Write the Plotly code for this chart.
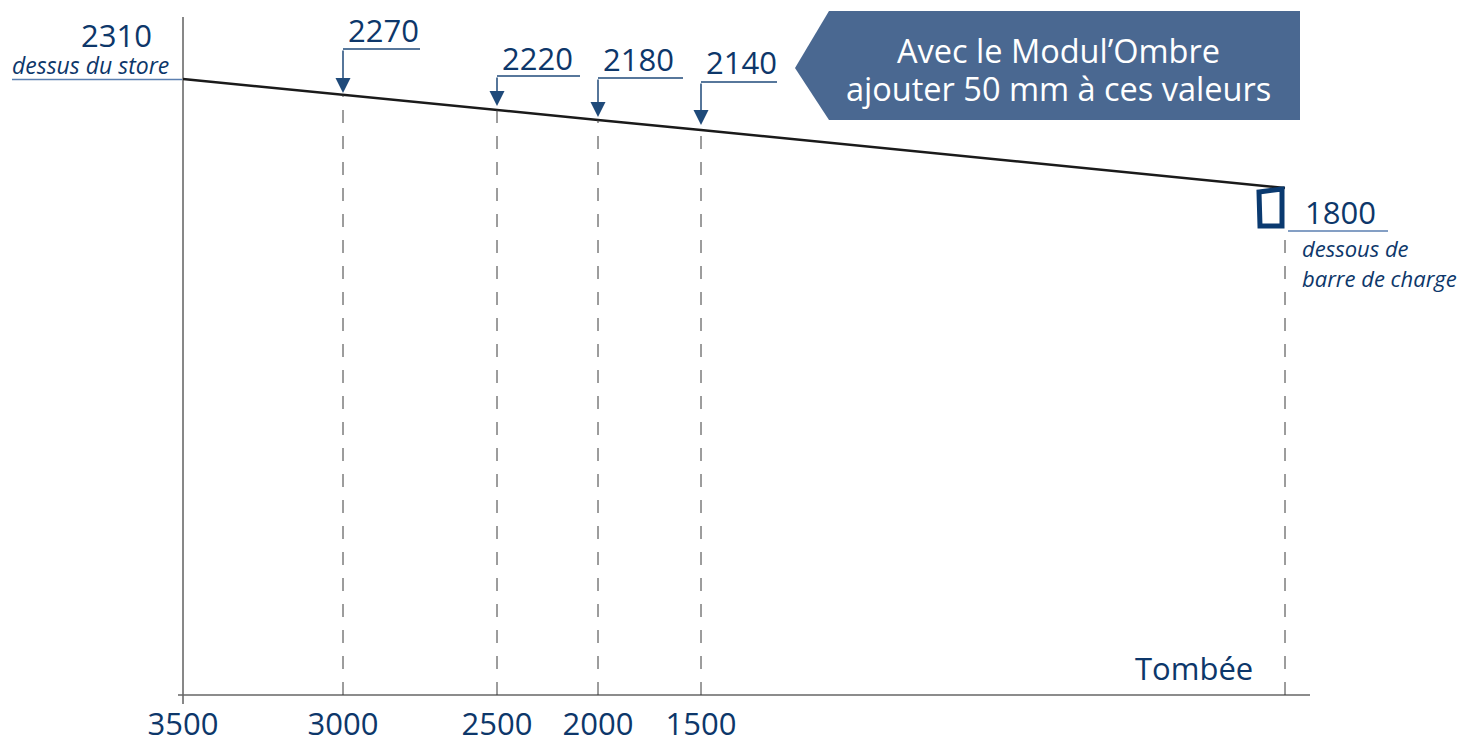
import plotly.graph_objects as go

# ---- data (schematic diagram coordinates) ----
tombee_labels = ["3500", "3000", "2500", "2000", "1500"]
tombee_pos = [0, 160, 314, 415, 518]          # horizontal position of each drop in the drawing
hauteurs = ["2310", "2270", "2220", "2180", "2140"]
end_pos = 1102                                 # bottom of load bar position
end_hauteur = "1800"
line_pos = [0, 160, 314, 415, 518, 1102]
line_y = [616, 600, 585, 575, 565, 507]        # drawn height of the awning line

# callout geometry (for 2270, 2220, 2180, 2140)
callout_y = [646, 619, 617, 613]
callout_end = [237, 397, 500, 594]
callout_tip = [602, 589, 578, 570]
label_y = [665, 637, 636, 633]

NAVY = "#0d376a"
LINE_NAVY = "#1f4a7a"
UNDER = "#5b7fb0"
BOX = "#4a6891"
FONT = "Open Sans"

fig = go.Figure()
fig.add_trace(go.Scatter(x=line_pos, y=line_y, mode="lines",
                         line=dict(color="#1a1a1a", width=2.5), hoverinfo="skip",
                         showlegend=False))

shapes = []
# axes
shapes.append(dict(type="line", x0=0, x1=0, y0=-9, y1=678, line=dict(color="#111", width=1)))
shapes.append(dict(type="line", x0=-5, x1=1127, y0=0, y1=0, line=dict(color="#666", width=1.5)))
# dashed verticals
for i in range(1, len(tombee_pos)):
    shapes.append(dict(type="line", x0=tombee_pos[i], x1=tombee_pos[i], y0=0, y1=line_y[i],
                       line=dict(color="#3a3a3a", width=1, dash="13px,13px")))
shapes.append(dict(type="line", x0=end_pos, x1=end_pos, y0=0, y1=467,
                   line=dict(color="#3a3a3a", width=1, dash="13px,13px")))
# callout horizontal lines
for i in range(4):
    p = tombee_pos[i + 1]
    shapes.append(dict(type="line", x0=p, x1=callout_end[i], y0=callout_y[i], y1=callout_y[i],
                       line=dict(color=LINE_NAVY, width=1.5)))
# underlines
shapes.append(dict(type="line", x0=-171, x1=-1, y0=615.5, y1=615.5, line=dict(color=UNDER, width=1.5)))
shapes.append(dict(type="line", x0=1105, x1=1205, y0=464, y1=464, line=dict(color=UNDER, width=1.5)))
# load bar box
shapes.append(dict(type="path", path="M1076,503 L1099,506 L1099,469 L1077,469 Z",
                   line=dict(color="#0a3a70", width=5), fillcolor="rgba(0,0,0,0)"))
# blue note box
shapes.append(dict(type="path", path="M612,627 L646,684 L1117,684 L1117,575 L646,575 Z",
                   line=dict(width=0), fillcolor=BOX, layer="below"))

ann = []
# arrows
for i in range(4):
    p = tombee_pos[i + 1]
    ann.append(dict(x=p, y=callout_tip[i], ax=p, ay=callout_y[i], axref="x", ayref="y",
                    xref="x", yref="y", text="", showarrow=True, arrowhead=2,
                    arrowsize=2.0, arrowwidth=1.5, arrowcolor=LINE_NAVY, standoff=0))
    ann.append(dict(x=p + 3, y=label_y[i], xref="x", yref="y", text=hauteurs[i + 1],
                    showarrow=False, xanchor="left", yanchor="middle",
                    font=dict(family=FONT, size=31, color=NAVY)))
ann.append(dict(x=-29, y=660, text=hauteurs[0], showarrow=False, xanchor="right", yanchor="middle",
                font=dict(family=FONT, size=31, color=NAVY)))
ann.append(dict(x=-173, y=630, text="<i>dessus du store</i>", showarrow=False, xanchor="left",
                yanchor="middle", font=dict(family=FONT, size=23, color=NAVY)))
ann.append(dict(x=1120, y=483, text=end_hauteur, showarrow=False, xanchor="left", yanchor="middle",
                font=dict(family=FONT, size=31, color=NAVY)))
ann.append(dict(x=1117, y=447, text="<i>dessous de</i>", showarrow=False, xanchor="left",
                yanchor="middle", font=dict(family=FONT, size=22, color=NAVY)))
ann.append(dict(x=1117, y=417, text="<i>barre de charge</i>", showarrow=False, xanchor="left",
                yanchor="middle", font=dict(family=FONT, size=22, color=NAVY)))
ann.append(dict(x=1011, y=27, text="Tombée", showarrow=False, xanchor="center", yanchor="middle",
                font=dict(family=FONT, size=31, color=NAVY)))
ann.append(dict(x=875, y=645, text="Avec le Modul’Ombre",
                showarrow=False, xanchor="center", yanchor="middle",
                font=dict(family=FONT, size=32.5, color="white")))
ann.append(dict(x=875, y=607, text="ajouter 50 mm à ces valeurs",
                showarrow=False, xanchor="center", yanchor="middle",
                font=dict(family=FONT, size=32.5, color="white")))

fig.update_layout(
    width=1468, height=739,
    margin=dict(l=0, r=0, t=0, b=0, autoexpand=False),
    paper_bgcolor="white", plot_bgcolor="white",
    shapes=shapes, annotations=ann, showlegend=False,
    xaxis=dict(range=[-183, 1285], showgrid=False, zeroline=False, showline=False,
               tickvals=tombee_pos, ticktext=tombee_labels, ticks="",
               ticklabelposition="inside", ticklabelstandoff=-5, automargin=False,
               tickfont=dict(family=FONT, size=31, color=NAVY),
               fixedrange=True),
    yaxis=dict(range=[-44, 695], showgrid=False, zeroline=False, showline=False,
               showticklabels=False, ticks="", fixedrange=True, automargin=False),
)

fig.write_html("out.html", config={"displayModeBar": False},
               post_script="document.body.style.margin='0';document.body.style.overflow='hidden';")
